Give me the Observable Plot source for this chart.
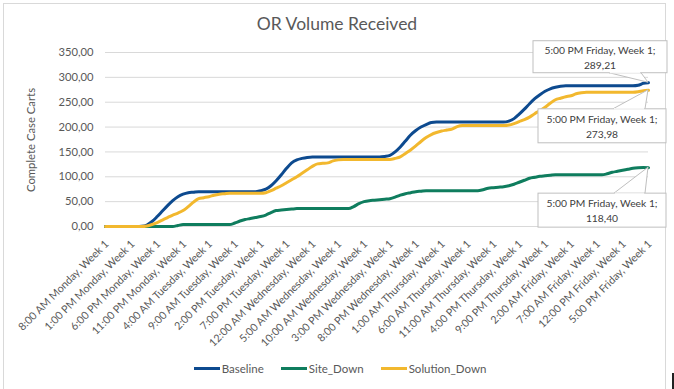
<!DOCTYPE html>
<html>
<head>
<meta charset="utf-8">
<script src="https://cdn.jsdelivr.net/npm/d3@7"></script>
<script src="https://cdn.jsdelivr.net/npm/@observablehq/plot@0.6"></script>
<style>
  html, body { margin: 0; padding: 0; background: #ffffff; }
  #wrap { position: relative; width: 674px; height: 389px; overflow: hidden; font-family: Lato, "Open Sans", sans-serif; color: #595959; }
  #frame { position: absolute; left: 3px; top: 3px; width: 663px; height: 400px; border: 1px solid #d9d9d9; box-sizing: border-box; }
  #title { position: absolute; left: 0; width: 674px; top: 13px; text-align: center; font-size: 17.5px; color: #595959; }
  #ylabel { position: absolute; left: 30px; top: 140px; transform: translate(-50%, -50%) rotate(-90deg); white-space: nowrap; font-size: 11.3px; color: #595959; }
  #chart { position: absolute; left: 0; top: 0; }
  #legend { position: absolute; left: 0; width: 674px; top: 362px; display: flex; justify-content: center; gap: 17px; font-size: 11.5px; color: #595959; padding-left: 6px; box-sizing: border-box; }
  .item { display: flex; align-items: center; }
  .sw { width: 26px; height: 3px; margin-right: 2px; }
  #mark { position: absolute; left: 672px; top: 373px; width: 2px; height: 16px; background: #222; }
</style>
</head>
<body>
<div id="wrap">
  <div id="frame"></div>
  <div id="chart"></div>
  <div id="title">OR Volume Received</div>
  <div id="ylabel">Complete Case Carts</div>
  <div id="legend"></div>
  <div id="mark"></div>
</div>
<script>
// ---- data ----
const seriesNames = ["Baseline", "Site_Down", "Solution_Down"];
const seriesColors = ["#0d4a8f", "#0f7d5e", "#f2b82e"];

const tickLabels = [
  "8:00 AM Monday, Week 1", "1:00 PM Monday, Week 1", "6:00 PM Monday, Week 1",
  "11:00 PM Monday, Week 1", "4:00 AM Tuesday, Week 1", "9:00 AM Tuesday, Week 1",
  "2:00 PM Tuesday, Week 1", "7:00 PM Tuesday, Week 1", "12:00 AM Wednesday, Week 1",
  "5:00 AM Wednesday, Week 1", "10:00 AM Wednesday, Week 1", "3:00 PM Wednesday, Week 1",
  "8:00 PM Wednesday, Week 1", "1:00 AM Thursday, Week 1", "6:00 AM Thursday, Week 1",
  "11:00 AM Thursday, Week 1", "4:00 PM Thursday, Week 1", "9:00 PM Thursday, Week 1",
  "2:00 AM Friday, Week 1", "7:00 AM Friday, Week 1", "12:00 PM Friday, Week 1",
  "5:00 PM Friday, Week 1"
];
const tickStep = 5; // one label every 5 hourly categories

const yTicks = [0, 50, 100, 150, 200, 250, 300, 350];

// hourly values, 8:00 AM Monday .. 5:00 PM Friday (106 points)
const baseline = [
  0, 0, 0, 0, 0, 0, 0, 0.5, 3, 10,
  20, 31, 42, 52, 60, 65, 68, 69, 70, 70,
  70, 70, 70, 70, 70, 70, 70, 70, 70, 70,
  72, 75, 82, 92, 104, 117, 128, 134, 137, 139,
  140, 140, 140, 140, 140, 140, 140, 140, 140, 140,
  140, 140, 140, 140, 141, 143, 150, 160, 172, 184,
  193, 200, 205, 209, 210, 210, 210, 210, 210, 210,
  210, 210, 210, 210, 210, 210, 210, 210, 212, 217,
  226, 236, 247, 257, 265, 272, 277, 280, 282, 283,
  283, 283, 283, 283, 283, 283, 283, 283, 283, 283,
  283, 283, 283, 284, 288, 289.21
];
const siteDown = [
  0, 0, 0, 0, 0, 0, 0, 0, 0, 0,
  0, 0, 0, 0, 2, 4, 4, 4, 4, 4,
  4, 4, 4, 4, 4, 7, 11, 14, 16, 18,
  20, 23, 28, 32, 33, 34, 35, 36, 36, 36,
  36, 36, 36, 36, 36, 36, 36, 36, 40, 46,
  50, 52, 53, 54, 55, 56, 59, 63, 66, 68,
  70, 71, 72, 72, 72, 72, 72, 72, 72, 72,
  72, 72, 72, 74, 77, 78, 79, 80, 82, 85,
  89, 93, 97, 99, 101, 102, 103, 104, 104, 104,
  104, 104, 104, 104, 104, 104, 104, 106, 109, 111,
  113, 115, 117, 118, 118.5, 118.4
];
const solutionDown = [
  0, 0, 0, 0, 0, 0, 0, 0, 1, 4,
  8, 13, 18, 23, 27, 32, 40, 49, 56, 58,
  60, 63, 65, 66, 67, 67, 67, 67, 67, 67,
  67, 68, 72, 77, 82, 88, 94, 100, 107, 114,
  121, 126, 127, 128, 132, 134, 135, 135, 135, 135,
  135, 135, 135, 135, 135, 135, 137, 140, 147, 154,
  162, 171, 179, 185, 189, 192, 194, 196, 201, 203,
  203, 203, 203, 203, 203, 203, 203, 203, 204, 207,
  211, 215, 220, 227, 233, 240, 248, 255, 258, 261,
  263, 267, 269, 270, 270, 270, 270, 270, 270, 270,
  270, 270, 270, 271, 273, 273.98
];
const seriesValues = [baseline, siteDown, solutionDown];

// ---- build tables ----
const rows = [];
seriesNames.forEach((name, s) => {
  seriesValues[s].forEach((v, i) => rows.push({series: name, h: i, v}));
});
const tickRows = tickLabels.map((label, k) => ({h: k * tickStep, label}));
const lastIndex = baseline.length - 1;
const lastLabel = tickLabels[tickLabels.length - 1];

const fmt = d => d3.format(".2f")(d).replace(".", ",");

const chart = Plot.plot({
  width: 674,
  height: 389,
  marginTop: 52,
  marginLeft: 105,
  marginRight: 26,
  marginBottom: 163,
  style: {fontFamily: "Lato, 'Open Sans', sans-serif", background: "transparent", overflow: "visible", color: "#595959"},
  x: {domain: [0, lastIndex], axis: null},
  y: {domain: [0, 350], axis: null},
  color: {domain: seriesNames, range: seriesColors},
  marks: [
    Plot.ruleY(yTicks, {stroke: "#d9d9d9", strokeWidth: 1}),
    Plot.axisY(yTicks, {tickSize: 0, tickPadding: 12, tickFormat: fmt, fontSize: 11.2, fill: "#595959", label: null}),
    Plot.line(rows, {x: "h", y: "v", z: "series", stroke: "series", strokeWidth: 3, curve: "monotone-x", strokeLinejoin: "round"}),
    Plot.text(tickRows, {x: "h", frameAnchor: "bottom", text: "label", rotate: -45, textAnchor: "end", dx: 4, dy: 18, fontSize: 10.7, fill: "#595959"})
  ]
});
document.getElementById("chart").appendChild(chart);

// ---- data callouts at the last point of each series ----
const calloutLayout = {
  Baseline:      {bx: -115, by: -41.5, w: 134, h: 32, w0: -39, w1: -7, side: "bottom"},
  Solution_Down: {bx: -110, by: 19,    w: 128, h: 34, w0: -35, w1: -3, side: "top"},
  Site_Down:     {bx: -110, by: 26,    w: 128, h: 34, w0: -34, w1: -3, side: "top"}
};
const sx = chart.scale("x"), sy = chart.scale("y");
const svg = d3.select(chart);
const g = svg.append("g");
seriesNames.forEach((name, s) => {
  const L = calloutLayout[name];
  const v = seriesValues[s][lastIndex];
  const px = sx.apply(lastIndex), py = sy.apply(v);
  const x0 = px + L.bx, y0 = py + L.by;
  const edgeY = L.side === "bottom" ? y0 + L.h : y0;
  const cg = g.append("g");
  cg.append("polygon")
    .attr("points", `${px + L.w0},${edgeY} ${px},${py} ${px + L.w1},${edgeY}`)
    .attr("fill", "#fff").attr("stroke", "#bfbfbf").attr("stroke-width", 1);
  cg.append("rect")
    .attr("x", x0).attr("y", y0).attr("width", L.w).attr("height", L.h)
    .attr("fill", "#fff").attr("stroke", "#bfbfbf").attr("stroke-width", 1);
  cg.append("line")
    .attr("x1", px + L.w0 + 0.8).attr("x2", px + L.w1 - 0.8)
    .attr("y1", edgeY).attr("y2", edgeY)
    .attr("stroke", "#fff").attr("stroke-width", 1.2);
  const t = cg.append("text")
    .attr("font-family", "Lato, 'Open Sans', sans-serif")
    .attr("font-size", 10.3).attr("fill", "#404040").attr("text-anchor", "middle");
  t.append("tspan").attr("x", x0 + L.w / 2).attr("y", y0 + L.h / 2 - 7).attr("dominant-baseline", "central").text(lastLabel + ";");
  t.append("tspan").attr("x", x0 + L.w / 2).attr("y", y0 + L.h / 2 + 8).attr("dominant-baseline", "central").text(fmt(v));
});

// ---- legend ----
const legend = d3.select("#legend");
seriesNames.forEach((name, s) => {
  const it = legend.append("div").attr("class", "item");
  it.append("div").attr("class", "sw").style("background", seriesColors[s]);
  it.append("span").text(name);
});
</script>
</body>
</html>
